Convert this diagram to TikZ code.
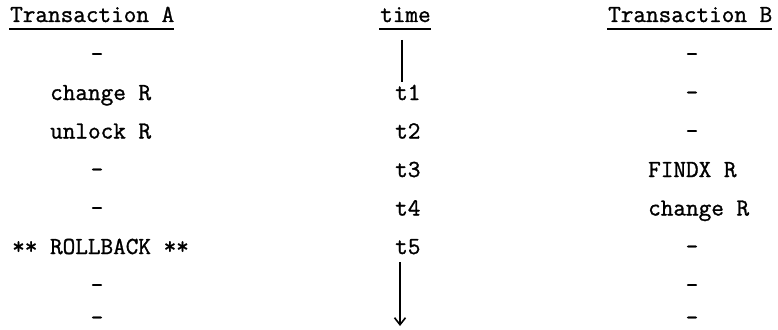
\documentclass[tikz,border=0pt]{standalone}
\usepackage{fontspec}
\newfontfamily\twfont[FakeBold=1.2]{Latin Modern Mono}
\usetikzlibrary{arrows.meta,calc}
\begin{document}
\begin{tikzpicture}[x=1pt,y=1pt,
  txt/.style={inner sep=0pt,anchor=base west,font=\twfont\fontsize{24.5}{29}\selectfont},
  dsh/.style={txt,anchor=base},
  uline/.style={line width=1.5pt},
  tline/.style={line width=1.9pt}]
\useasboundingbox (0,0) rectangle (778,-329);
% headers
\node[txt] (hA) at (10,-22) {Transaction A};
\node[txt] (hT) at (380,-22) {time};
\node[txt] (hB) at (608,-22) {Transaction B};
\foreach \n in {hA,hT,hB}{
  \draw[uline] ($(\n.base west)+(-1,-7)$) -- ($(\n.base east)+(0,-7)$);
}
% column A
\node[dsh] (a1) at (97,-61.5) {-};
\node[txt] (a2) at (50,-100) {change R};
\node[txt] (a3) at (50,-138.5) {unlock R};
\node[dsh] (a4) at (97,-177) {-};
\node[dsh] (a5) at (97,-215.5) {-};
\node[txt] (a6) at (12,-254) {** ROLLBACK **};
\node[dsh] (a7) at (97,-292.5) {-};
\node[dsh] (a8) at (97,-325) {-};
% time column
\node[txt] (t1) at (395,-100) {t1};
\node[txt] (t2) at (395,-138.5) {t2};
\node[txt] (t3) at (395,-177) {t3};
\node[txt] (t4) at (395,-215.5) {t4};
\node[txt] (t5) at (395,-254) {t5};
\coordinate (ls) at (402,-40);
\coordinate (le) at (402,-82);
\draw[tline] (ls) -- (le);
\coordinate (as) at (400,-262);
\coordinate (ae) at (400,-326);
\draw[tline,-{Straight Barb[length=7pt,width=11pt,line width=1.6pt]}] (as) -- (ae);
% column B
\node[dsh] (b1) at (692,-61.5) {-};
\node[dsh] (b2) at (692,-100) {-};
\node[dsh] (b3) at (692,-138.5) {-};
\node[txt] (b4) at (648,-177) {FINDX R};
\node[txt] (b5) at (648,-215.5) {change R};
\node[dsh] (b6) at (692,-254) {-};
\node[dsh] (b7) at (692,-292.5) {-};
\node[dsh] (b8) at (692,-325) {-};
\end{tikzpicture}
\end{document}
